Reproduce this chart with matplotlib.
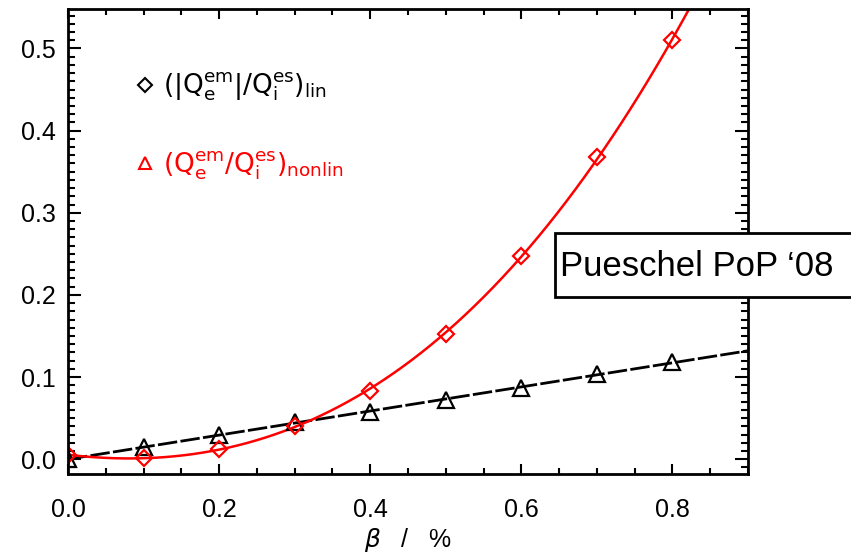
import numpy as np
import matplotlib
matplotlib.use("Agg")
import matplotlib.pyplot as plt
from matplotlib.lines import Line2D
from matplotlib.patches import Rectangle
from matplotlib.ticker import MultipleLocator, FormatStrFormatter

beta = [0.0, 0.1, 0.2, 0.3, 0.4, 0.5, 0.6, 0.7, 0.8]
ratio_lin = [0.0, 0.015, 0.030, 0.045, 0.057, 0.072, 0.087, 0.104, 0.118]
ratio_nonlin = [0.005, 0.001, 0.013, 0.041, 0.083, 0.153, 0.247, 0.368, 0.510]

label_lin = r'$(|\mathrm{Q}_\mathrm{e}^\mathrm{em}|/\mathrm{Q}_\mathrm{i}^\mathrm{es})_\mathrm{lin}$'
label_nonlin = r'$(\mathrm{Q}_\mathrm{e}^\mathrm{em}/\mathrm{Q}_\mathrm{i}^\mathrm{es})_\mathrm{nonlin}$'
xlabel = r'$\beta$   /   %'
note = "Pueschel PoP \u201808"

plt.rcParams['font.family'] = ['Liberation Sans', 'DejaVu Sans']
plt.rcParams['mathtext.fontset'] = 'dejavusans'
fig = plt.figure(figsize=(8.51, 5.60), dpi=100)
ax = fig.add_axes([68/851, 1-474/560, (748-68)/851, (474-9)/560])

xs = np.linspace(0, 0.9, 300)
p_lin = np.polyfit(beta, ratio_lin, 1)
p_non = np.polyfit(beta, ratio_nonlin, 3)

ax.plot(xs, np.polyval(p_lin, xs), color='black', lw=2, dashes=(7, 1.2))
ax.plot(xs, np.polyval(p_non, xs), color='red', lw=1.8)
ax.plot(beta, ratio_lin, ls='none', marker='^', ms=11, mfc='none', mec='black', mew=1.6)
ax.plot(beta, ratio_nonlin, ls='none', marker='D', ms=8, mfc='none', mec='red', mew=1.6)

ax.set_xlim(0, 0.9)
ax.set_ylim(-0.018, 0.548)
ax.xaxis.set_major_locator(MultipleLocator(0.2))
ax.xaxis.set_minor_locator(MultipleLocator(0.05))
ax.yaxis.set_major_locator(MultipleLocator(0.1))
ax.yaxis.set_minor_locator(MultipleLocator(0.01))
ax.xaxis.set_major_formatter(FormatStrFormatter('%.1f'))
ax.yaxis.set_major_formatter(FormatStrFormatter('%.1f'))
ax.tick_params(axis='both', which='both', direction='in', top=True, right=True, width=1.5,
               labelsize=18, colors='black')
ax.tick_params(axis='x', which='major', length=7.5, pad=17)
ax.tick_params(axis='x', which='minor', length=4)
ax.tick_params(axis='y', which='major', length=9.5, pad=9)
ax.tick_params(axis='y', which='minor', length=5)
for s in ax.spines.values():
    s.set_linewidth(2)

ax.set_xlabel(xlabel, fontsize=18, labelpad=3)

handles = [Line2D([], [], ls='none', marker='D', ms=7, mfc='none', mec='black', mew=1.5),
           Line2D([], [], ls='none', marker='^', ms=9, mfc='none', mec='red', mew=1.5)]
ax.legend(handles, [label_lin, label_nonlin], labelcolor=['black', 'red'], frameon=False,
          loc='upper left', bbox_to_anchor=(0.066, 0.918), fontsize=19, labelspacing=1.75,
          handlelength=0.6, handletextpad=0.4)

fig.patches.append(Rectangle((555/851, 1-297/560), 0.4, 64/560, transform=fig.transFigure,
                             fc='white', ec='black', lw=2, clip_on=False, zorder=5))
fig.text(560/851, 1-266/560, note, fontsize=25, va='center', ha='left', zorder=6,
         family=['Liberation Sans'])

fig.savefig('out.png', dpi=100)
